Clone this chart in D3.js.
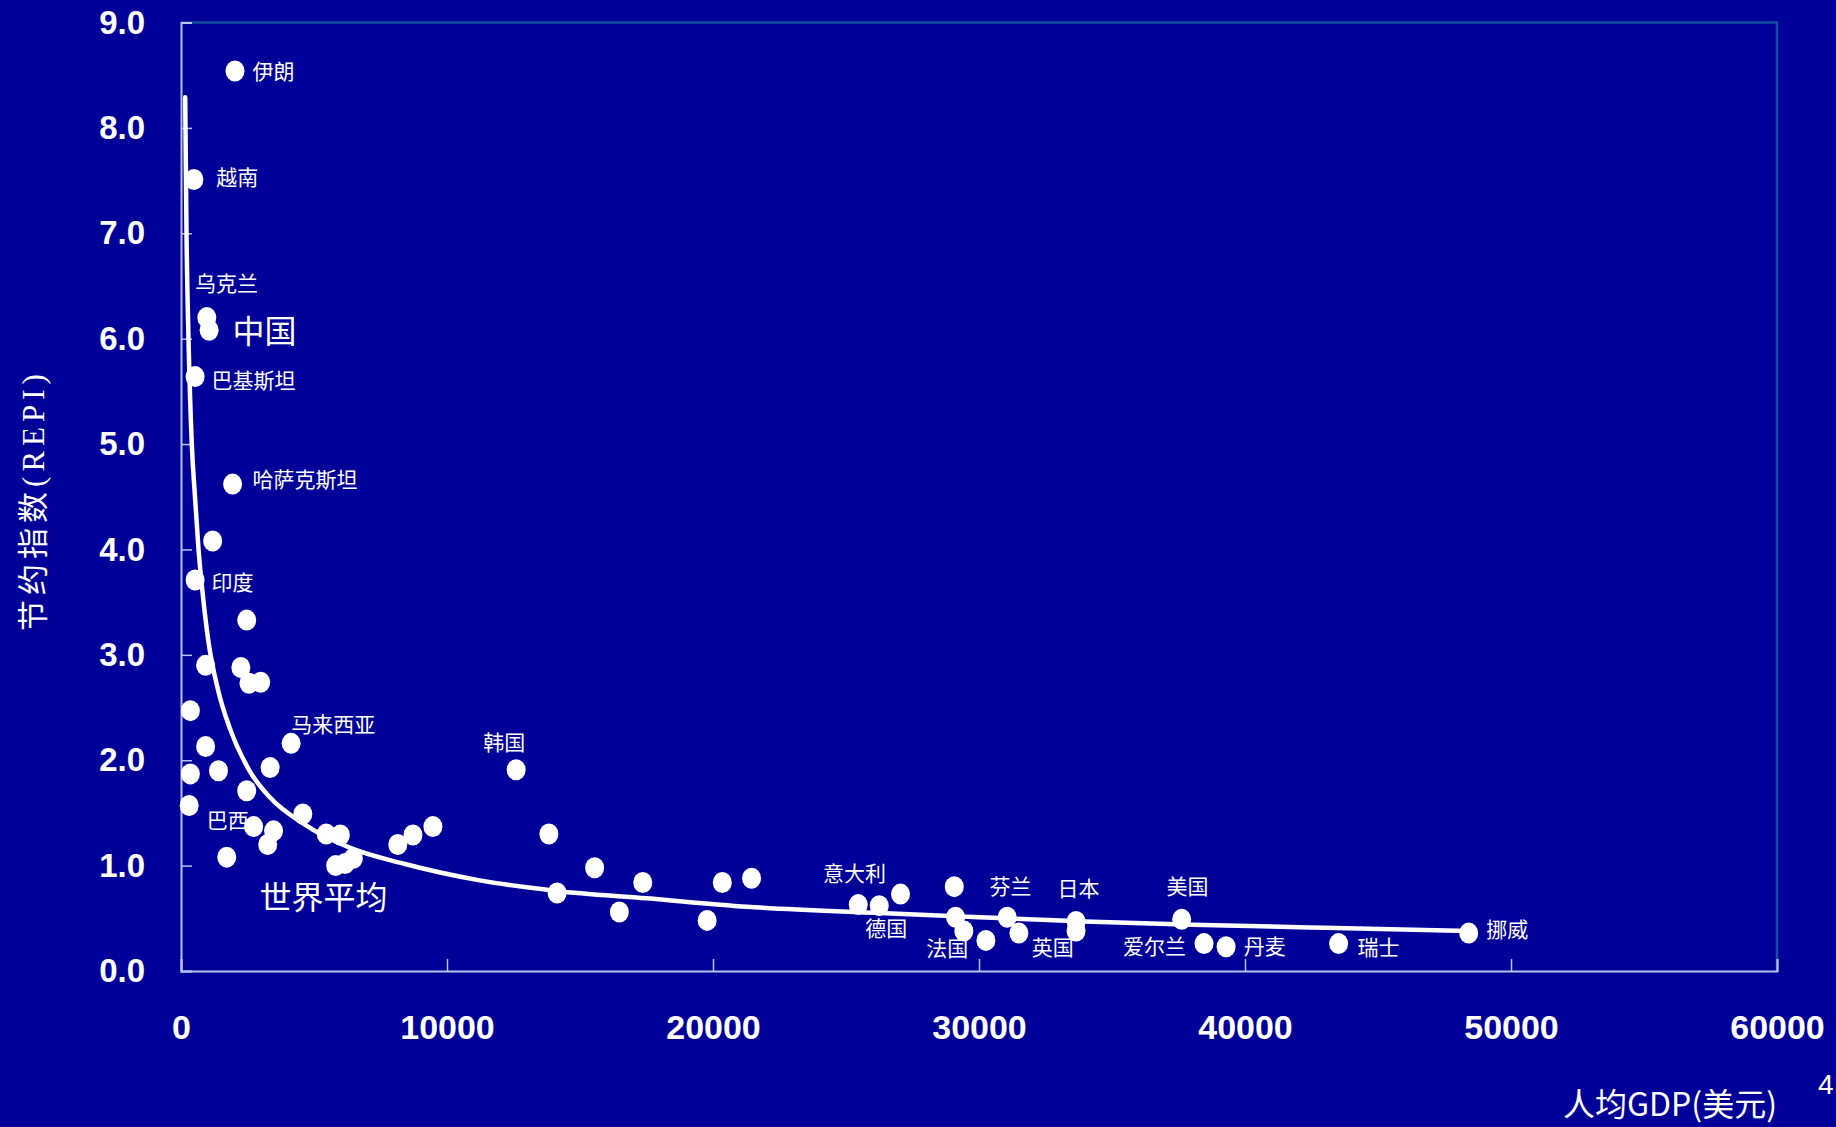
<!DOCTYPE html>
<html><head><meta charset="utf-8">
<script src="https://cdn.jsdelivr.net/npm/d3@7"></script>
<style>
html,body{margin:0;padding:0;background:#000099;overflow:hidden;}
svg{display:block;}
</style></head>
<body>
<svg id="c" width="1836" height="1127"></svg>
<script>
// ---- data ----
const gdp  = [2030, 485, 970, 1057, 530, 1940, 1190, 530, 2470, 925, 2250, 2555, 2995, 352, 4140, 925, 3350, 352, 1410, 2470, 308, 4580, 2730, 3480, 3260, 1720, 5460, 5990, 5815, 6170, 6480, 8150, 8720, 9470, 12600, 13830, 14140, 15550, 16480, 17360, 19780, 20350, 21450, 25460, 26250, 27050, 29070, 29120, 29430, 30260, 31060, 31500, 33650, 33650, 37620, 38460, 39290, 43520, 48410];
const repi = [8.54, 7.51, 6.20, 6.08, 5.64, 4.62, 4.08, 3.71, 3.33, 2.90, 2.88, 2.73, 2.74, 2.47, 2.16, 2.13, 1.93, 1.87, 1.90, 1.71, 1.57, 1.49, 1.37, 1.33, 1.20, 1.08, 1.30, 1.29, 1.00, 1.02, 1.07, 1.20, 1.29, 1.37, 1.91, 1.30, 0.74, 0.98, 0.56, 0.84, 0.48, 0.84, 0.88, 0.63, 0.62, 0.73, 0.80, 0.51, 0.38, 0.29, 0.51, 0.36, 0.47, 0.38, 0.49, 0.26, 0.23, 0.26, 0.36];

// world-average trend line
const trendGdp  = [158, 169, 207, 282, 406, 520, 659, 850, 1035, 1400, 1825, 2578, 3330, 4584, 6341, 8347, 11233, 14119, 17505, 21268, 26285, 30000, 34000, 38000, 43000, 48412];
const trendRepi = [8.29, 8.0, 7.0, 6.0, 5.0, 4.52, 4.0, 3.5, 3.12, 2.66, 2.31, 1.90, 1.65, 1.40, 1.17, 1.02, 0.86, 0.76, 0.69, 0.61, 0.55, 0.51, 0.47, 0.44, 0.41, 0.38];

// country annotations (anchor in data units)
const labelText = ["伊朗","越南","乌克兰","中国","巴基斯坦","哈萨克斯坦","印度","马来西亚","韩国","巴西","世界平均","意大利","德国","法国","芬兰","英国","日本","美国","爱尔兰","丹麦","瑞士","挪威"];
const labelGdp  = [2687, 1322, 529, 1938, 1145, 2687, 1145, 4141, 11365, 969, 2951, 24139, 25725, 28016, 30395, 31981, 32950, 37046, 35417, 39954, 44226, 49072];
const labelRepi = [8.54, 7.53, 6.52, 6.07, 5.60, 4.66, 3.69, 2.34, 2.17, 1.43, 0.70, 0.93, 0.40, 0.21, 0.80, 0.22, 0.78, 0.80, 0.23, 0.23, 0.22, 0.39];
const bigLabels = ["中国","世界平均"];

const xTicks = [0, 10000, 20000, 30000, 40000, 50000, 60000];
const yTicks = [0, 1, 2, 3, 4, 5, 6, 7, 8, 9];
const xTitle = "人均GDP(美元)";
const yTitleCJK = "节约指数";
const yTitleLatin = "(REPI)";
const pageNo = "4";

// ---- drawing ----
const svg = d3.select("#c");
const L = 181, R = 1777, T = 22.5, B = 971;
const x = d3.scaleLinear().domain([0, 60000]).range([L, R]);
const y = d3.scaleLinear().domain([0, 9]).range([B, T]);

const axisCol = "#b8c2ea";
// plot frame top/right
svg.append("path")
  .attr("d", `M${L},${T}H${R}V${B}`)
  .attr("fill", "none").attr("stroke", "#134f9e").attr("stroke-width", 2.5);

// y axis
const gy = svg.append("g").attr("transform", `translate(${L},0)`)
  .call(d3.axisLeft(y).tickValues(yTicks).tickSize(-11).tickPadding(36).tickFormat(d3.format(".1f")));
// x axis
const gx = svg.append("g").attr("transform", `translate(0,${B})`)
  .call(d3.axisBottom(x).tickValues(xTicks).tickSize(-12).tickPadding(44).tickFormat(d3.format("d")));

[gy, gx].forEach(g => {
  g.select(".domain").attr("stroke", axisCol).attr("stroke-width", 2);
  g.selectAll(".tick line").attr("stroke", axisCol).attr("stroke-width", 1.5);
  g.selectAll(".tick text").attr("fill", "#ffffff")
    .style("font-family", "'Liberation Sans', Arial, sans-serif")
    .style("font-weight", "bold").style("font-size", "33px");
});
gx.selectAll(".tick text").style("font-size", "34px");

// trend line
const pts = trendGdp.map((g, i) => [g, trendRepi[i]]);
svg.append("path").datum(pts)
  .attr("d", d3.line().x(d => x(d[0])).y(d => y(d[1])).curve(d3.curveMonotoneX))
  .attr("fill", "none").attr("stroke", "#ffffff").attr("stroke-width", 4.5)
  .attr("stroke-linecap", "round");

// points
svg.append("g").selectAll("ellipse").data(gdp.map((g, i) => [g, repi[i]]))
  .join("ellipse")
  .attr("cx", d => x(d[0])).attr("cy", d => y(d[1]))
  .attr("rx", 9.5).attr("ry", 10.5).attr("fill", "#ffffff");

// labels
svg.append("g").selectAll("text").data(labelText.map((t, i) => ({t, g: labelGdp[i], r: labelRepi[i]})))
  .join("text")
  .attr("x", d => x(d.g)).attr("y", d => y(d.r))
  .attr("dy", "0.36em")
  .attr("fill", "#ffffff")
  .style("font-family", "'Noto Sans CJK SC', sans-serif")
  .style("font-size", d => bigLabels.includes(d.t) ? "32px" : "21px")
  .text(d => d.t);

// y title
const yt = svg.append("text")
  .attr("transform", "translate(44,500) rotate(-90)")
  .attr("text-anchor", "middle").attr("fill", "#ffffff")
  .style("font-size", "31px").style("letter-spacing", "5px");
yt.append("tspan").style("font-family", "'Noto Sans CJK SC', sans-serif").text(yTitleCJK);
yt.append("tspan").style("font-family", "'Liberation Serif', serif").text(yTitleLatin);

// x title
svg.append("text").attr("x", 1777).attr("y", 1116)
  .attr("text-anchor", "end").attr("fill", "#ffffff")
  .style("font-family", "'Noto Sans CJK SC', sans-serif").style("font-size", "32px")
  .text(xTitle);

// page number (at the right edge)
svg.append("text").attr("x", 1818).attr("y", 1094)
  .attr("fill", "#ffffff")
  .style("font-family", "'Liberation Sans', sans-serif").style("font-size", "28px")
  .text(pageNo);
</script>
</body></html>
